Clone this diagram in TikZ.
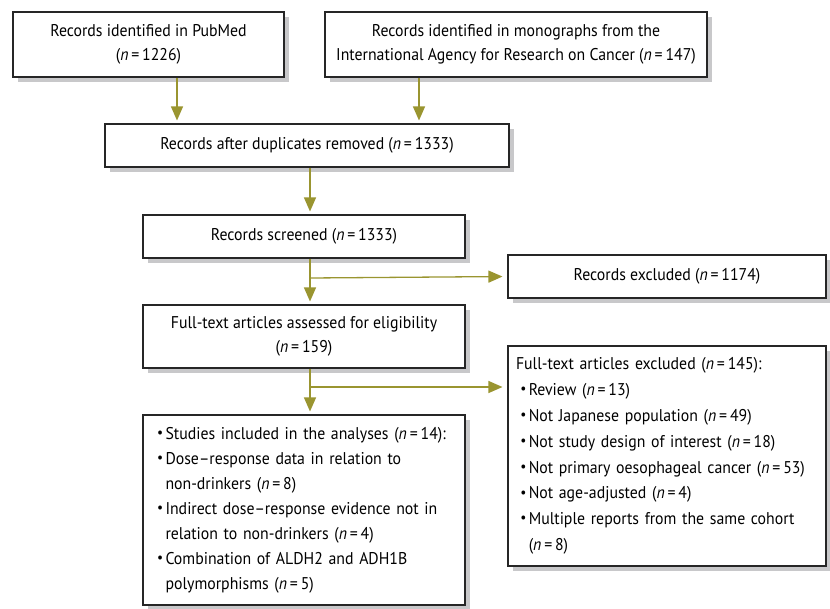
\documentclass[tikz,border=0pt]{standalone}
\usepackage{fontspec}
\setmainfont{PT Sans}[FakeStretch=0.93]
\usetikzlibrary{shadows,arrows.meta}
\definecolor{olive}{RGB}{154,149,48}
\definecolor{shade}{RGB}{200,200,202}
\newcommand{\nn}[1]{(\textit{n}\,=\,#1)}
\newcommand{\bul}{\makebox[0.5em][l]{\raisebox{0.22ex}{\scalebox{0.85}{\textbullet}}}}
\newcommand{\ind}{\hspace*{0.5em}}
\tikzset{
  box/.style={draw=black!85, line width=1.1pt, fill=white, inner sep=0pt,
    drop shadow={shadow xshift=5pt, shadow yshift=-5pt, fill=shade, opacity=1},
    font=\fontsize{17}{23.5}\selectfont, align=center},
  listbox/.style={box, align=left, font=\fontsize{17}{25}\selectfont},
  conn/.style={draw=olive, line width=1.3pt, -{Triangle[length=14pt,width=12pt]}}
}
\begin{document}
\begin{tikzpicture}[x=1pt,y=-1pt]
\useasboundingbox (0,0) rectangle (830,608);
\node[box, minimum width=271pt, minimum height=65pt] (pub) at (148.5,44.5)
  {Records identified in PubMed\\ \nn{1226}};
\node[box, minimum width=382pt, minimum height=65pt] (iarc) at (516,44.5)
  {Records identified in monographs from the\\ International Agency for Research on Cancer \nn{147}};
\node[box, minimum width=404pt, minimum height=43pt] (dup) at (307,145.5)
  {Records after duplicates removed \nn{1333}};
\node[box, minimum width=322pt, minimum height=43pt] (scr) at (304,236.5)
  {Records screened \nn{1333}};
\node[box, minimum width=318pt, minimum height=43pt] (exc) at (667,276.5)
  {Records excluded \nn{1174}};
\node[box, minimum width=322pt, minimum height=63pt] (full) at (304,336.5)
  {Full-text articles assessed for eligibility\\ \nn{159}};
\node[listbox, minimum width=318pt, minimum height=220pt, text width=302pt,
  font=\fontsize{17}{25.8}\selectfont] (fexc) at (667,456)
  {Full-text articles excluded \nn{145}:\\
   \hspace*{0.25em}\bul Review \nn{13}\\
   \hspace*{0.25em}\bul Not Japanese population \nn{49}\\
   \hspace*{0.25em}\bul Not study design of interest \nn{18}\\
   \hspace*{0.25em}\bul Not primary oesophageal cancer \nn{53}\\
   \hspace*{0.25em}\bul Not age-adjusted \nn{4}\\
   \hspace*{0.25em}\bul Multiple reports from the same cohort\\
   \hspace*{0.25em}\ind\nn{8}};
\node[listbox, minimum width=322pt, minimum height=190pt, text width=294pt] (inc) at (304,510)
  {\bul Studies included in the analyses \nn{14}:\\
   \bul Dose--response data in relation to\\
   \ind non-drinkers \nn{8}\\
   \bul Indirect dose--response evidence not in\\
   \ind relation to non-drinkers \nn{4}\\
   \bul Combination of ALDH2 and ADH1B\\
   \ind polymorphisms \nn{5}};
\coordinate (b1) at (310,278);
\coordinate (b2) at (310,387);
\draw[conn, shorten >=3pt] (pub.south -| 177,0) -- (dup.north -| 177,0);
\draw[conn, shorten >=3pt] (iarc.south -| 419,0) -- (dup.north -| 419,0);
\draw[conn, shorten >=3pt] (dup.south -| 310,0) -- (scr.north -| 310,0);
\draw[conn, shorten >=3pt] (scr.south -| 310,0) -- (full.north -| 310,0);
\draw[conn, shorten >=5pt] (b1) -- (exc.west);
\draw[conn, shorten >=3pt] (full.south -| 310,0) -- (inc.north -| 310,0);
\draw[conn, shorten >=5pt] (b2) -- (b2 -| fexc.west);
\end{tikzpicture}
\end{document}
